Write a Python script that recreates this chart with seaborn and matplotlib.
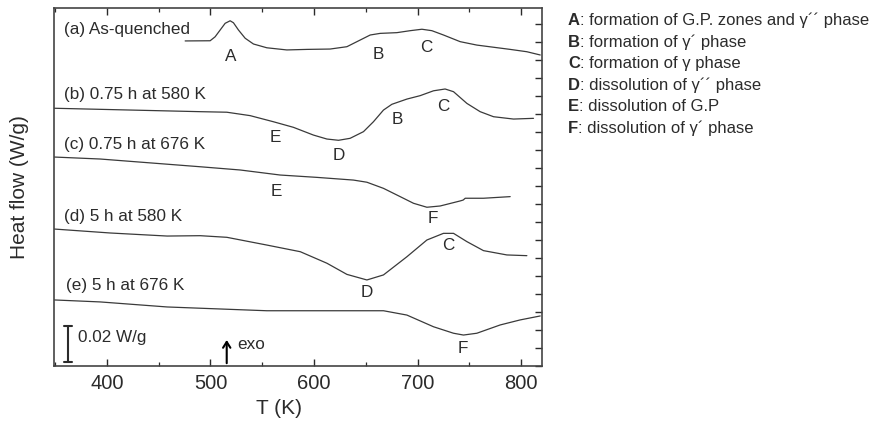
import matplotlib
matplotlib.use("Agg")
import matplotlib.pyplot as plt
from matplotlib.ticker import MultipleLocator
import seaborn as sns

# ---------------- data (T in K, heat flow in mW/g, curves offset vertically) ----------------
a_T = [475.6, 499.7, 504.5, 509.4, 514.2, 519.0, 522.2, 527.0, 533.5, 541.5, 554.4, 573.7, 593.1,
       615.5, 631.7, 644.5, 654.2, 663.8, 679.9, 692.8, 704.1, 713.7, 724.9, 741.0, 757.1, 773.2,
       789.3, 805.4, 818.3]
a_Q = [180.6, 180.7, 182.9, 186.7, 190.4, 191.8, 190.7, 186.7, 182.1, 178.9, 176.8, 175.6, 175.9,
       176.1, 177.4, 181.1, 183.9, 184.8, 185.2, 186.3, 187.1, 186.3, 183.9, 180.2, 178.3, 177.1,
       175.9, 174.6, 172.8]

b_T = [349.1, 490.1, 515.8, 538.3, 560.8, 580.1, 599.4, 612.4, 623.6, 634.8, 647.7, 657.3, 667.0,
       675.1, 689.6, 702.4, 715.3, 726.5, 734.6, 747.5, 760.3, 773.2, 792.5, 811.8]
b_Q = [143.2, 141.3, 141.0, 139.1, 135.7, 132.6, 128.3, 126.1, 125.4, 126.5, 130.2, 135.7, 142.2,
       145.4, 148.3, 150.2, 152.9, 153.9, 152.4, 145.9, 141.3, 138.5, 137.2, 137.6]

c_T = [349.1, 393.5, 490.1, 528.7, 567.3, 602.7, 638.0, 651.0, 667.0, 683.1, 696.0, 708.9, 721.7,
       741.0, 743.9, 745.9, 763.5, 789.3]
c_Q = [116.1, 115.0, 110.7, 108.9, 106.1, 104.8, 103.3, 102.1, 98.7, 94.1, 90.4, 88.2, 88.9,
       91.7, 92.2, 93.2, 93.2, 94.1]

d_T = [349.1, 403.2, 458.2, 490.1, 515.8, 554.4, 586.7, 612.4, 631.7, 651.0, 667.0, 689.6, 708.9,
       724.9, 734.6, 747.5, 763.5, 786.1, 805.4]
d_Q = [76.1, 73.9, 72.2, 72.4, 71.5, 67.2, 63.5, 57.1, 50.9, 47.8, 50.6, 60.7, 70.0,
       73.7, 73.7, 69.1, 64.1, 61.7, 61.3]

e_T = [349.1, 393.5, 458.2, 490.1, 554.4, 618.7, 667.0, 689.6, 715.3, 734.6, 744.2, 757.1, 779.6,
       798.9, 818.3]
e_Q = [36.7, 35.6, 32.8, 32.1, 30.7, 30.7, 30.7, 28.3, 21.8, 18.2, 17.2, 18.2, 22.8,
       25.6, 27.8]

curve_names = ["(a) As-quenched", "(b) 0.75 h at 580 K", "(c) 0.75 h at 676 K",
               "(d) 5 h at 580 K", "(e) 5 h at 676 K"]
curve_label_pos = [(358.5, 186.7), (358.5, 150.6), (358.5, 122.8), (358.5, 83.3), (360.5, 45.0)]

peak_letters = ["A", "B", "C", "E", "D", "B", "C", "E", "F", "D", "C", "F"]
peak_T = [519.6, 662.3, 708.6, 563.0, 623.7, 680.6, 725.0, 564.0, 714.4, 650.7, 729.8, 743.3]
peak_Q = [172.2, 172.8, 176.7, 127.2, 117.2, 137.2, 143.9, 96.7, 81.7, 40.6, 66.7, 10.0]

legend_keys = ["A", "B", "C", "D", "E", "F"]
legend_texts = [": formation of G.P. zones and \u03b3\u00b4\u00b4 phase",
                ": formation of \u03b3\u00b4 phase",
                ": formation of \u03b3 phase",
                ": dissolution of \u03b3\u00b4\u00b4 phase",
                ": dissolution of G.P",
                ": dissolution of \u03b3\u00b4 phase"]

x_ticks = [400, 500, 600, 700, 800]

# ---------------- style ----------------
sns.set_theme(style="ticks")
plt.rcParams['font.family'] = ['Liberation Sans', 'DejaVu Sans']
ink = "#2b2b2b"

fig = plt.figure(figsize=(8.84, 4.23), dpi=100)
ax = fig.add_axes([54/884, 1-366/423, 488/884, 358/423])

for T, Q in [(a_T, a_Q), (b_T, b_Q), (c_T, c_Q), (d_T, d_Q), (e_T, e_Q)]:
    sns.lineplot(x=T, y=Q, ax=ax, color="#3a3a3a", linewidth=0.9, sort=False, estimator=None)

ax.set_xlim(349, 820)
ax.set_ylim(0, 198.9)

ax.xaxis.set_major_locator(plt.FixedLocator(x_ticks))
ax.xaxis.set_minor_locator(MultipleLocator(50))
ax.yaxis.set_major_locator(MultipleLocator(10))
ax.tick_params(axis='x', which='major', direction='in', top=True, bottom=True,
               length=5, width=1.0, color=ink, labelsize=14.5, labelcolor=ink, pad=6)
ax.tick_params(axis='x', which='minor', direction='in', top=True, bottom=True,
               length=3, width=0.9, color=ink)
ax.tick_params(axis='y', which='both', direction='in', left=False, right=True,
               labelleft=False, labelright=False, length=5, width=1.0, color=ink)
for s in ax.spines.values():
    s.set_visible(True)
    s.set_color("#444444")
    s.set_linewidth(1.2)
ax.set_xlabel("")
ax.set_ylabel("")

# curve labels
for name, (tx, ty) in zip(curve_names, curve_label_pos):
    ax.text(tx, ty, name, fontsize=12.3, color=ink, ha='left', va='center')
for L, tx, ty in zip(peak_letters, peak_T, peak_Q):
    ax.text(tx, ty, L, fontsize=12.3, color=ink, ha='center', va='center')

# scale bar 0.02 W/g = 20 mW/g
sb_x, sb_y0, sb_h = 362.4, 2.5, 20.0
ax.plot([sb_x, sb_x], [sb_y0, sb_y0 + sb_h], color=ink, lw=1.5)
ax.plot([sb_x - 4, sb_x + 4], [sb_y0, sb_y0], color=ink, lw=1.5)
ax.plot([sb_x - 4, sb_x + 4], [sb_y0 + sb_h, sb_y0 + sb_h], color=ink, lw=1.5)
ax.text(372, 16.1, "0.02 W/g", fontsize=12.3, color=ink, ha='left', va='center')

# exo arrow
ax.annotate("", xy=(515.7, 16.0), xytext=(515.7, 0),
            arrowprops=dict(arrowstyle="->,head_length=0.35,head_width=0.22",
                            color="black", lw=1.5))
ax.text(525.4, 11.7, "exo", fontsize=12.3, color=ink, ha='left', va='center')

# axis titles
fig.text(279/884, 1-408/423, "T (K)", fontsize=15, color=ink, ha='center', va='center')
fig.text(20/884, 1-187/423, "Heat flow (W/g)", fontsize=15, color=ink, ha='center',
         va='center', rotation=90)

# legend text on the right
y0 = 20.5
for i, (k, t) in enumerate(zip(legend_keys, legend_texts)):
    yy = 1 - (y0 + i * 21.6) / 423
    t1 = fig.text(568/884, yy, k, fontsize=12, fontweight='bold', color=ink,
                  ha='left', va='center')
    ax.annotate(t, xy=(1, 0.5), xycoords=t1, fontsize=12, color=ink,
                ha='left', va='center', annotation_clip=False)

fig.savefig("out.png", dpi=100)
